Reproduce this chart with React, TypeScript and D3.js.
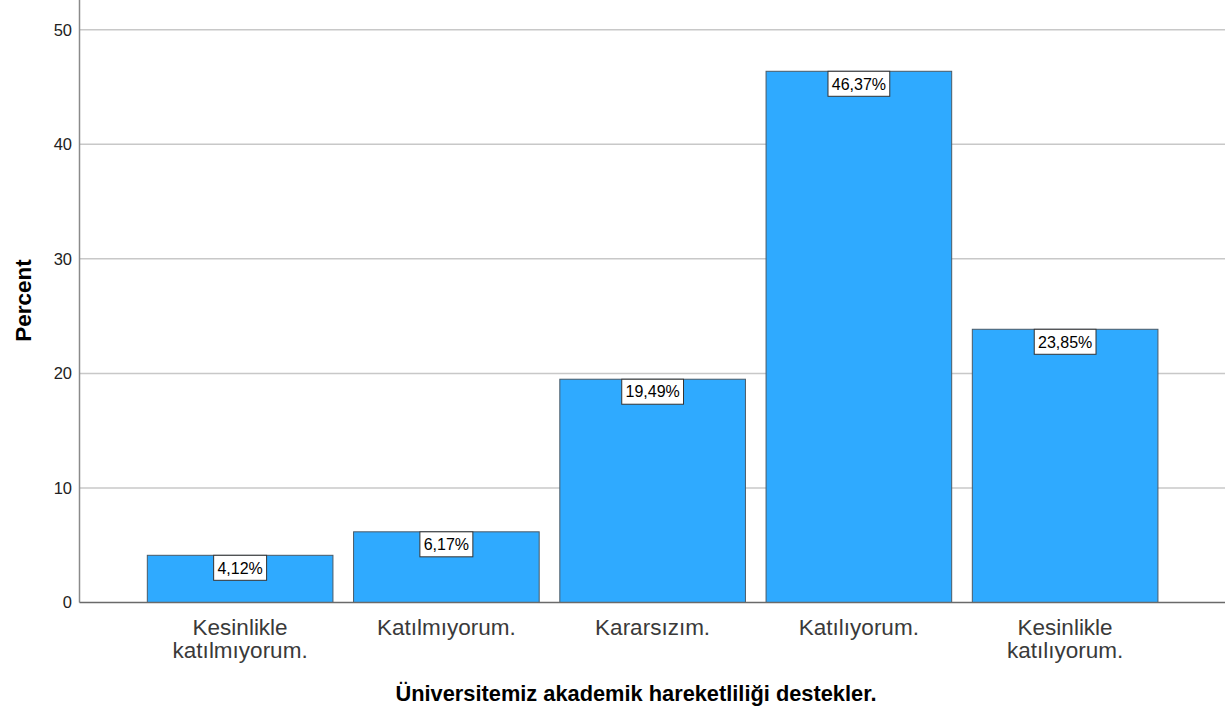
import React from "react";
import * as d3 from "d3";

const categories: string[][] = [
  ["Kesinlikle", "katılmıyorum."],
  ["Katılmıyorum."],
  ["Kararsızım."],
  ["Katılıyorum."],
  ["Kesinlikle", "katılıyorum."],
];
const categoryKeys = ["c1", "c2", "c3", "c4", "c5"];
const percents = [4.12, 6.17, 19.49, 46.37, 23.85];
const percentLabels = ["4,12%", "6,17%", "19,49%", "46,37%", "23,85%"];
const yTicks = [0, 10, 20, 30, 40, 50];
const xTitle = "Üniversitemiz akademik hareketliliği destekler.";
const yTitle = "Percent";

const W = 1225;
const H = 719;
const FONT = "'Liberation Sans', Arial, sans-serif";

export default function App() {
  const axisX = 79.5;
  const baseY = 602.5;
  const y = d3.scaleLinear().domain([0, 50]).range([baseY, 29.7]);
  const x = d3
    .scaleBand<string>()
    .domain(categoryKeys)
    .range([137, 1168.25])
    .paddingInner(0.1)
    .paddingOuter(0.05);

  const labelFont = 16;
  const boxH = 26;

  return (
    <div style={{ position: "absolute", left: 0, top: 0 }}>
      <svg width={W} height={H} style={{ display: "block", background: "#fff" }}>
        {yTicks
          .filter((t) => t > 0)
          .map((t) => (
            <line
              key={"g" + t}
              x1={axisX}
              x2={W}
              y1={y(t)}
              y2={y(t)}
              stroke="#c8c8c8"
              strokeWidth={1.5}
            />
          ))}
        {yTicks.map((t) => (
          <text
            key={"t" + t}
            x={72}
            y={y(t)}
            dy="0.36em"
            textAnchor="end"
            fontFamily={FONT}
            fontSize={16.5}
            fill="#222"
          >
            {t}
          </text>
        ))}
        {percents.map((v, i) => {
          const k = categoryKeys[i];
          const bx = x(k)!;
          const bw = x.bandwidth();
          return (
            <rect
              key={"b" + k}
              x={bx}
              y={y(v)}
              width={bw}
              height={baseY - y(v)}
              fill="#2faaff"
              stroke="#4a5a66"
              strokeWidth={1}
            />
          );
        })}
        <line x1={axisX} x2={axisX} y1={0} y2={baseY} stroke="#8a8a8a" strokeWidth={1.5} />
        <line x1={axisX} x2={W} y1={baseY} y2={baseY} stroke="#6a6a6a" strokeWidth={1.5} />
        {percents.map((v, i) => {
          const k = categoryKeys[i];
          const cx = x(k)! + x.bandwidth() / 2;
          const txt = percentLabels[i];
          const tw = txt.length * 0.55 * labelFont + 0.33 * labelFont - 0.27 * labelFont;
          const bw = tw + 8;
          const top = y(v);
          return (
            <g key={"l" + k}>
              <rect
                x={cx - bw / 2}
                y={top}
                width={bw}
                height={boxH - 1}
                fill="#fff"
                stroke="#333"
                strokeWidth={1}
              />
              <text
                x={cx}
                y={top + (boxH - 1) / 2}
                dy="0.36em"
                textAnchor="middle"
                fontFamily={FONT}
                fontSize={labelFont}
                fill="#000"
              >
                {txt}
              </text>
            </g>
          );
        })}
        {categories.map((lines, i) => {
          const k = categoryKeys[i];
          const cx = x(k)! + x.bandwidth() / 2;
          return (
            <text
              key={"c" + k}
              textAnchor="middle"
              fontFamily={FONT}
              fontSize={22.5}
              fill="#3a3a3a"
            >
              {lines.map((ln, j) => (
                <tspan key={j} x={cx} y={635 + j * 23}>
                  {ln}
                </tspan>
              ))}
            </text>
          );
        })}
        <text
          x={636}
          y={701}
          textAnchor="middle"
          fontFamily={FONT}
          fontSize={21.8}
          fontWeight="bold"
          fill="#000"
        >
          {xTitle}
        </text>
        <text
          transform={`translate(31,300.5) rotate(-90)`}
          textAnchor="middle"
          fontFamily={FONT}
          fontSize={22.5}
          fontWeight="bold"
          fill="#000"
        >
          {yTitle}
        </text>
      </svg>
    </div>
  );
}
